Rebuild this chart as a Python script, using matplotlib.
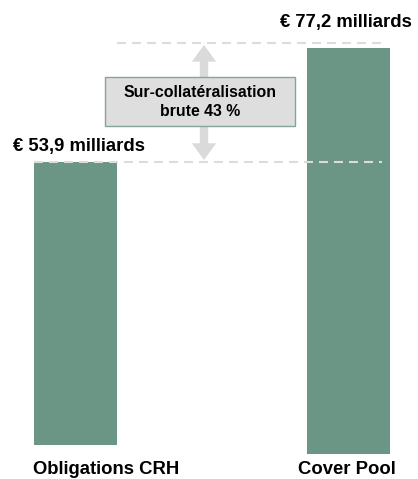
import matplotlib.pyplot as plt
from matplotlib.patches import FancyArrowPatch, Rectangle

plt.rcParams['font.family'] = ['Liberation Sans', 'DejaVu Sans']

# Data
categories = ['Obligations CRH', 'Cover Pool']
values = [53.9, 77.2]
value_labels = ['€ 53,9 milliards', '€ 77,2 milliards']
box_text = 'Sur-collatéralisation\nbrute 43 %'

bar_color = '#6b9584'
grey = '#dadada'

W, H = 418, 479
fig = plt.figure(figsize=(W / 100, H / 100), dpi=100)
ax = fig.add_axes([0, 0, 1, 1])

# pixel scale: right bar 406 px tall for 77.2
k = 406 / values[1]
base_px = 25
ax.set_ylim(-base_px / k, (H - base_px) / k)
ax.set_xlim(-75.5 / 273, (W - 75.5) / 273)
ax.axis('off')

# helpers: reference pixel -> data
def dx(p):
    return (p - 75.5) / 273

def dy(p):
    return (H - base_px - p) / k

x = [0, 1]
bottoms = [9 / k, 0]  # left bar sits slightly higher in the original
ax.bar(x, values, width=83 / 273, bottom=bottoms, color=bar_color, zorder=2)

top_left = values[0] + bottoms[0]
top_right = dy(42.5)
dash = (0, (4.3, 2.9))
ax.hlines(top_left, dx(34), dx(382), colors='#dcdcdc', linestyles=dash, lw=1.5, zorder=3)
ax.hlines(top_right, dx(117), dx(382), colors='#dcdcdc', linestyles=dash, lw=1.5, zorder=3)

# double arrow between the two levels
xa = dx(204)
arr = FancyArrowPatch((xa, dy(160)), (xa, dy(45)),
                      arrowstyle='<|-|>,head_length=2.4,head_width=1.75',
                      mutation_scale=5, lw=0, color=grey, zorder=1,
                      shrinkA=0, shrinkB=0)
ax.add_patch(arr)
ax.plot([xa, xa], [dy(150), dy(55)], color=grey, lw=6, solid_capstyle='butt', zorder=1)

# box with text
ax.add_patch(Rectangle((dx(105), dy(126)), dx(295) - dx(105), dy(77) - dy(126),
                       fc='#dedede', ec='#86a596', lw=1, zorder=4))
ax.text(dx(200), dy(102), box_text, ha='center', va='center', fontsize=11.4,
        fontweight='bold', linespacing=1.35, zorder=5)

# value labels
ax.text(dx(79), dy(146), value_labels[0], ha='center', va='center',
        fontsize=13.3, fontweight='bold')
ax.text(dx(346), dy(22), value_labels[1], ha='center', va='center',
        fontsize=13.3, fontweight='bold')

# category labels
ax.text(dx(106), dy(470), categories[0], ha='center', va='center', fontsize=13.3, fontweight='bold')
ax.text(dx(347), dy(470), categories[1], ha='center', va='center', fontsize=13.3, fontweight='bold')

fig.savefig('out.png', dpi=100)
